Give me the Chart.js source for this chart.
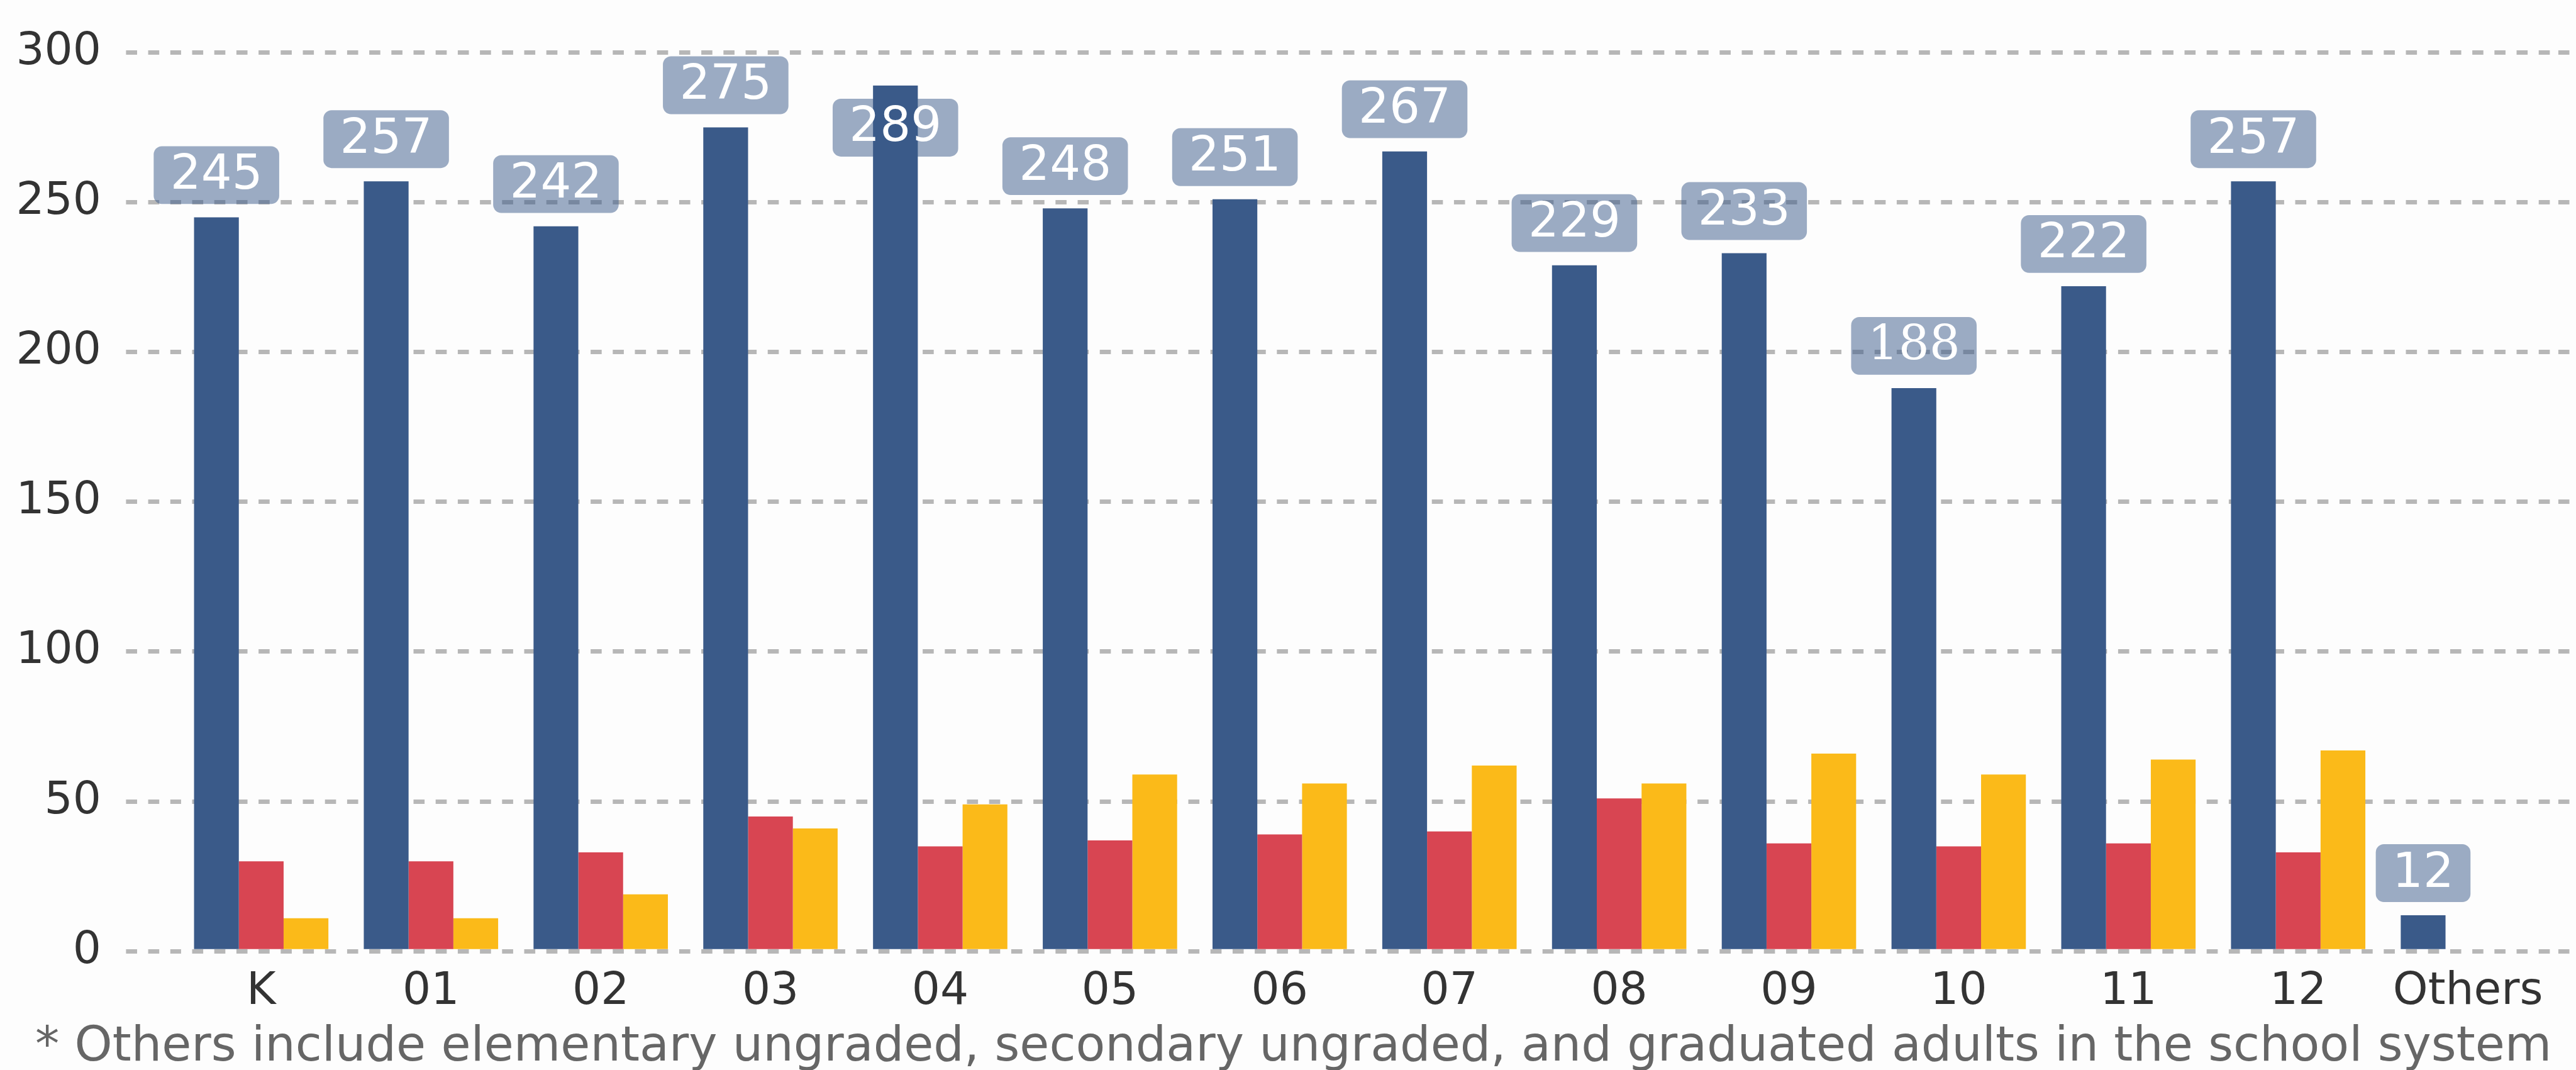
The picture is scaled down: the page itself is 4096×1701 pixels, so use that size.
<!DOCTYPE html>
<html>
<head>
<meta charset="utf-8">
<script src="https://cdn.jsdelivr.net/npm/chart.js@4/dist/chart.umd.min.js"></script>
<style>
html,body{margin:0;padding:0;background:#fdfdfd;overflow:hidden}
#wrap{width:4096px;height:1701px;position:relative}
canvas{display:block}
</style>
</head>
<body>
<div id="wrap"><canvas id="c" width="4096" height="1701"></canvas></div>
<script>
// ---- data ----
const categories = ['K','01','02','03','04','05','06','07','08','09','10','11','12','Others'];
const series1 = [245,257,242,275,289,248,251,267,229,233,188,222,257,12];
const series2 = [30,30,33,45,35,37,39,40,51,36,35,36,33,null];
const series3 = [11,11,19,41,49,59,56,62,56,66,59,64,67,null];
const yTicks = [0,50,100,150,200,250,300];
const footnote = '* Others include elementary ungraded, secondary ungraded, and graduated adults in the school system';

// ---- styles ----
const FONT = '"DejaVu Sans", Verdana, sans-serif';
const GRID = '#b7b7b7';
const DASH = [17.6, 17.6];
const GRID_W = 7;
const NOTE_SIZE = 76.5;
const NOTE_LH = 0.9;

const valueLabels = {
  id: 'valueLabels',
  afterDatasetsDraw(chart, args, opts) {
    const meta = chart.getDatasetMeta(0);
    const ctx = chart.ctx;
    const area = chart.chartArea;
    ctx.save();
    meta.data.forEach((bar, i) => {
      const v = chart.data.datasets[0].data[i];
      if (v == null) return;
      const text = String(v);
      const fam = opts.serifIndex === i ? '"DejaVu Serif", serif' : FONT;
      ctx.font = opts.size + 'px ' + fam;
      const w = ctx.measureText(text).width + 2 * opts.padX;
      const h = opts.height;
      let top = bar.y - opts.gap - h;
      if (top < area.top) top = bar.y + opts.gap;
      ctx.beginPath();
      ctx.roundRect(bar.x - w / 2, top, w, h, opts.radius);
      ctx.fillStyle = opts.bg;
      ctx.fill();
      ctx.fillStyle = opts.color;
      ctx.textAlign = 'center';
      ctx.textBaseline = 'middle';
      ctx.fillText(text, bar.x, top + h / 2 + 1.5);
    });
    ctx.restore();
  }
};

// shift the footnote (title block) to its left inset
const noteInset = {
  id: 'noteInset',
  afterLayout(chart, args, opts) {
    if (chart.titleBlock) chart.titleBlock.left = opts.left;
  }
};

new Chart(document.getElementById('c'), {
  type: 'bar',
  data: {
    labels: categories,
    datasets: [
      { label: 'series1', data: series1, backgroundColor: '#3a5a89' },
      { label: 'series2', data: series2, backgroundColor: '#d84552' },
      { label: 'series3', data: series3, backgroundColor: '#fbba19' }
    ]
  },
  options: {
    responsive: false,
    animation: false,
    devicePixelRatio: 1,
    layout: { padding: { left: 0, top: 83.5, right: 0, bottom: 0 } },
    datasets: { bar: { categoryPercentage: 0.7915, barPercentage: 1.0, borderWidth: 0 } },
    plugins: {
      legend: { display: false },
      tooltip: { enabled: false },
      title: {
        display: true,
        text: footnote,
        position: 'bottom',
        align: 'start',
        color: '#666666',
        font: { family: FONT, size: NOTE_SIZE, weight: 'normal', lineHeight: NOTE_LH },
        padding: { top: 0, bottom: 0 }
      },
      noteInset: { left: 56 },
      valueLabels: {
        size: 77, padX: 26.3, height: 91.9, gap: 21.1, radius: 13,
        bg: 'rgba(58,90,138,0.5)', color: '#ffffff', serifIndex: 10
      }
    },
    scales: {
      x: {
        type: 'category',
        offset: true,
        grid: { display: false },
        border: { display: false },
        ticks: {
          color: '#333333', font: { family: FONT, size: 71 },
          padding: 14.9, maxRotation: 0, autoSkip: false
        },
        afterFit: (s) => { s.height = 1701 - 1512.2 - NOTE_SIZE * NOTE_LH; }
      },
      y: {
        position: 'left',
        min: 0, max: 300,
        afterBuildTicks: (s) => { s.ticks = yTicks.map(v => ({ value: v })); },
        ticks: { color: '#333333', font: { family: FONT, size: 71 }, padding: 39.5 },
        grid: {
          color: GRID, lineWidth: GRID_W,
          borderDash: DASH, borderDashOffset: 9.68,
          drawTicks: true, tickLength: 80, tickWidth: GRID_W, tickColor: GRID,
          tickBorderDash: DASH, tickBorderDashOffset: 0
        },
        border: { display: false, dash: DASH, dashOffset: 9.68 },
        afterFit: (s) => { s.width = 280.4; }
      },
      y2: {
        position: 'right',
        min: 0, max: 300,
        afterBuildTicks: (s) => { s.ticks = yTicks.map(v => ({ value: v })); },
        ticks: { display: false },
        grid: {
          drawOnChartArea: false, color: GRID, lineWidth: GRID_W,
          drawTicks: true, tickLength: 40, tickWidth: GRID_W, tickColor: GRID,
          tickBorderDash: DASH, tickBorderDashOffset: 26.3
        },
        border: { display: false },
        afterFit: (s) => { s.width = 36.9; }
      }
    }
  },
  plugins: [valueLabels, noteInset]
});
</script>
</body>
</html>
